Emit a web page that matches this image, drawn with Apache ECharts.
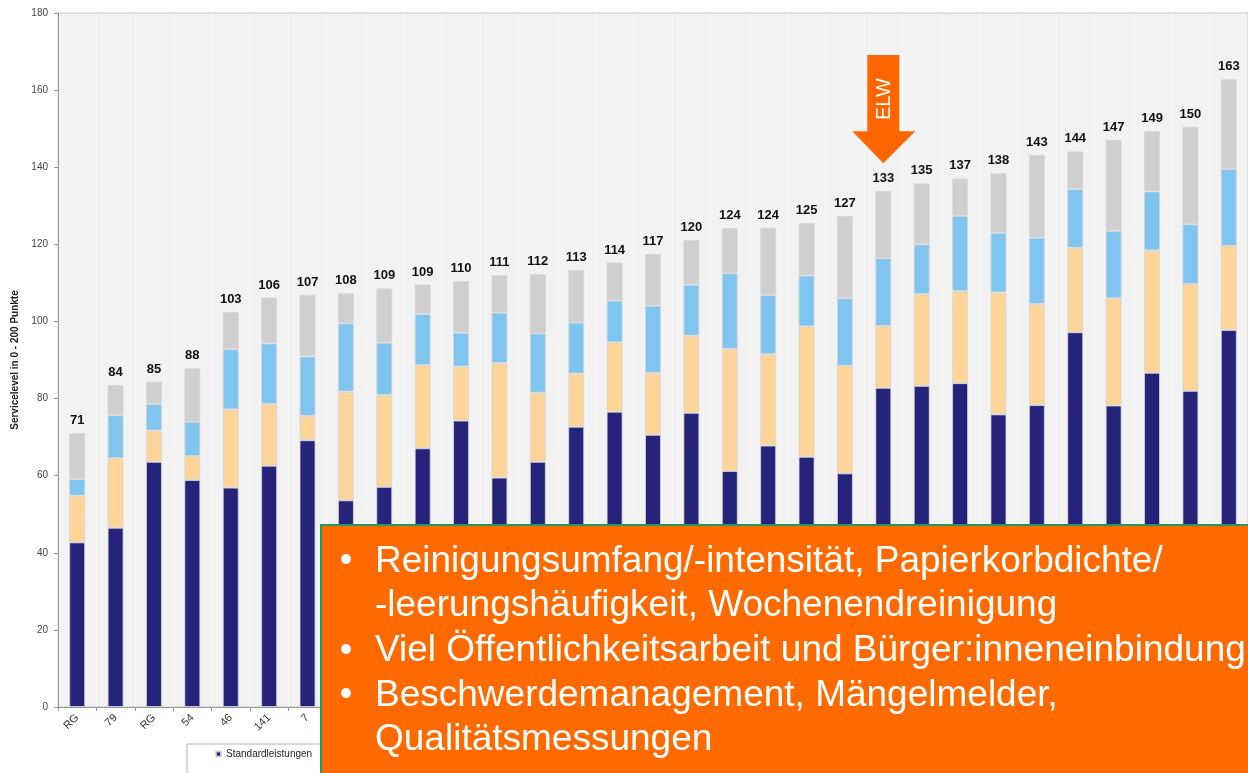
<!DOCTYPE html>
<html>
<head>
<meta charset="utf-8">
<script src="https://cdn.jsdelivr.net/npm/echarts@6/dist/echarts.min.js"></script>
<style>
html,body{margin:0;padding:0;background:#fff;}
#c{width:1248px;height:773px;}
</style>
</head>
<body>
<div id="c"></div>
<script>
const categories = ["RG","79","RG","54","46","141","7","","","","","","","","","","","","","","","","","","","","","","","",""];
const standard = [42.7,46.5,63.6,58.9,56.9,62.6,69.2,53.6,57.1,67.1,74.3,59.5,63.6,72.7,76.6,70.6,76.3,61.2,67.8,64.9,60.6,82.8,83.3,84.0,75.9,78.3,97.2,78.2,86.7,82.0,97.8];
const peach = [12.1,18.0,8.1,6.2,20.3,16.0,6.3,28.2,23.8,21.6,14.0,29.7,17.9,13.8,18.0,16.1,20.0,31.7,23.7,33.8,27.9,16.0,23.8,23.9,31.6,26.2,21.9,27.8,31.7,27.7,21.8];
const blue = [4.3,11.2,6.9,8.9,15.6,15.7,15.4,17.7,13.6,13.2,8.8,13.1,15.4,13.2,10.8,17.4,13.2,19.6,15.4,13.2,17.5,17.6,12.9,19.5,15.5,17.2,15.2,17.5,15.3,15.5,19.9];
const grey = [11.9,7.8,5.8,13.9,9.7,11.9,16.0,7.8,14.1,7.7,13.4,9.7,15.4,13.6,9.9,13.4,11.6,11.7,17.4,13.6,21.4,17.4,15.8,9.7,15.4,21.5,9.8,23.6,15.7,25.3,23.3];
const totals = [71,84,85,88,103,106,107,108,109,109,110,111,112,113,114,117,120,124,124,125,127,133,135,137,138,143,144,147,149,150,163];
const yTicks = {min:0, max:180, interval:20};
const boxLines = [
  {bullet:true, text:"Reinigungsumfang/-intensität, Papierkorbdichte/"},
  {bullet:false, text:"-leerungshäufigkeit, Wochenendreinigung"},
  {bullet:true, text:"Viel Öffentlichkeitsarbeit und Bürger:inneneinbindung"},
  {bullet:true, text:"Beschwerdemanagement, Mängelmelder,"},
  {bullet:false, text:"Qualitätsmessungen"}
];
const arrowLabel = "ELW";
const arrowIndex = 21;

const chart = echarts.init(document.getElementById('c'), null, {renderer:'canvas'});
const barStyle = (c) => ({color:c, borderColor:'rgba(215,215,215,0.8)', borderWidth:1});
const mk = (name, data, color, extra) => Object.assign({
  name, type:'bar', stack:'s', data, barWidth:16, itemStyle:barStyle(color), animation:false
}, extra||{});

const option = {
  backgroundColor:'#ffffff',
  animation:false,
  textStyle:{fontFamily:'Liberation Sans, Arial, sans-serif'},
  grid:{left:58,right:-2,top:13,bottom:66,show:true,backgroundColor:'#F2F2F2',borderColor:'#C8C8C8',borderWidth:1},
  legend:{
    data:['Standardleistungen'], left:187, top:744,
    padding:[5,20,20,28], itemWidth:5, itemHeight:5, icon:'rect',
    borderColor:'#B0B0B0', borderWidth:1, backgroundColor:'#fff',
    textStyle:{fontSize:10, color:'#222', fontFamily:'Liberation Sans, Arial, sans-serif'}
  },
  xAxis:{
    type:'category', data:categories,
    axisLine:{lineStyle:{color:'#999'}},
    axisTick:{show:true, lineStyle:{color:'#999'}, length:4},
    splitLine:{show:true, lineStyle:{color:'rgba(255,255,255,0.5)', width:1}},
    axisLabel:{rotate:45, fontSize:11, color:'#333', margin:9, interval:0}
  },
  yAxis:{
    type:'value', min:yTicks.min, max:yTicks.max, interval:yTicks.interval,
    name:'Servicelevel in 0 - 200 Punkte', nameLocation:'middle', nameGap:33,
    nameTextStyle:{fontSize:10, fontWeight:'bold', color:'#222'},
    axisLine:{show:true, lineStyle:{color:'#999'}},
    axisTick:{show:true, length:4, lineStyle:{color:'#999'}},
    splitLine:{show:false},
    axisLabel:{fontSize:10, color:'#444', margin:10}
  },
  series:[
    mk('Standardleistungen', standard, '#25237A'),
    mk('Leistung 2', peach, '#FDD598'),
    mk('Leistung 3', blue, '#80C4F0'),
    mk('Leistung 4', grey, '#CFCFCF', {
      label:{show:true, position:'top', distance:6, fontSize:13, fontWeight:'bold', color:'#111',
        formatter:(p)=>String(totals[p.dataIndex])}
    })
  ]
};
chart.setOption(option);

// annotations
const ax = chart.convertToPixel({xAxisIndex:0}, arrowIndex);
const topY = chart.convertToPixel({yAxisIndex:0}, 133);
const tipY = topY - 31;
const elements = [];
elements.push({
  type:'polygon', z:100,
  shape:{points:[[ax-16,55],[ax+16,55],[ax+16,tipY-32],[ax+32,tipY-32],[ax,tipY],[ax-31,tipY-32],[ax-16,tipY-32]]},
  style:{fill:'#FF6600'}
});
elements.push({
  type:'text', z:101, x:ax+1, y:(55+tipY-32)/2+6, rotation:Math.PI/2,
  style:{text:arrowLabel, fill:'#fff', font:'20px Liberation Sans, Arial, sans-serif', align:'center', verticalAlign:'middle'}
});
elements.push({
  type:'rect', z:100,
  shape:{x:321, y:525, width:960, height:270},
  style:{fill:'#FF6A00', stroke:'#1E9A5C', lineWidth:2}
});
const base0 = 571.5, lh = 44.6;
boxLines.forEach((l,i)=>{
  const base = base0 + i*lh;
  if (l.bullet) {
    elements.push({type:'text', z:101, x:346, y:base-10,
      style:{text:'•', fill:'#fff', font:'36px Liberation Sans, Arial, sans-serif', align:'center', verticalAlign:'middle'}});
  }
  elements.push({type:'text', z:101, x:375, y:base-10,
    style:{text:l.text, fill:'#fff', font:'37px Liberation Sans, Arial, sans-serif', align:'left', verticalAlign:'middle'}});
});
chart.setOption({graphic:{elements}});
</script>
</body>
</html>
